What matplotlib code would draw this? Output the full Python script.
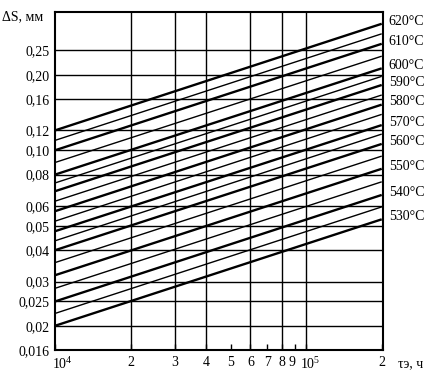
import matplotlib.pyplot as plt
import matplotlib.transforms as mtransforms
from matplotlib.ticker import FixedLocator, NullLocator

plt.rcParams['font.family'] = ['Liberation Serif', 'DejaVu Serif']
plt.rcParams['mathtext.fontset'] = 'custom'
plt.rcParams['mathtext.rm'] = 'Liberation Serif'
plt.rcParams['mathtext.default'] = 'regular'

# temperatures (°C), oxide layer at tau = 1e4 h and at tau = 2e5 h (mm)
temps = [620, 615, 610, 605, 600, 595, 590, 585, 580, 575,
         570, 565, 560, 555, 550, 545, 540, 535, 530]
ds_start = [0.120, 0.1095, 0.100, 0.0894, 0.080, 0.0741, 0.0687, 0.0627, 0.0572, 0.0522,
            0.0476, 0.0436, 0.040, 0.0357, 0.0318, 0.0282, 0.025, 0.0224, 0.020]
ds_end = [0.319, 0.291, 0.2655, 0.237, 0.212, 0.197, 0.182, 0.166, 0.152, 0.139,
          0.126, 0.116, 0.106, 0.0948, 0.0844, 0.0749, 0.0664, 0.0595, 0.0531]
tau = [1e4, 2e5]

y_ticks = [0.016, 0.02, 0.025, 0.03, 0.04, 0.05, 0.06, 0.08, 0.10, 0.12, 0.16, 0.20, 0.25]
y_labels = ['0,016', '0,02', '0,025', '0,03', '0,04', '0,05', '0,06', '0,08',
            '0,10', '0,12', '0,16', '0,20', '0,25']
x_ticks = [1e4, 2e4, 3e4, 4e4, 5e4, 6e4, 7e4, 8e4, 9e4, 1e5, 2e5]
x_labels = ['$10^4$', '2', '3', '4', '5', '6', '7', '8', '9', '$10^5$', '2']
x_grid = [2e4, 3e4, 4e4, 6e4, 8e4, 1e5]

fig = plt.figure(figsize=(4.4, 3.81), dpi=100)
ax = fig.add_axes([0.125, 0.081, 0.745, 0.888])
ax.set_xscale('log')
ax.set_yscale('log')
ax.set_xlim(1e4, 2.02e5)
ax.set_ylim(0.016, 0.356)

# grid
for v in y_ticks[1:]:
    ax.axhline(v, color='black', lw=1.0, zorder=1)
for v in x_grid:
    ax.axvline(v, color='black', lw=1.0, zorder=1)

# lines
for t, a, b in zip(temps, ds_start, ds_end):
    lw = 1.7 if t % 10 == 0 else 1.0
    ax.plot(tau, [a, b], color='black', lw=lw, solid_capstyle='butt', zorder=2)
    if t % 10 == 0:
        ax.annotate(f'{t}°C', xy=(tau[1], b), xytext=(5, 2), textcoords='offset points',
                    ha='left', va='center', fontsize=10, annotation_clip=False)

ax.yaxis.set_major_locator(FixedLocator(y_ticks))
ax.set_yticklabels(y_labels, fontsize=10)
ax.yaxis.set_minor_locator(NullLocator())
ax.xaxis.set_major_locator(FixedLocator(x_ticks))
ax.set_xticklabels(x_labels, fontsize=10)
ax.xaxis.set_minor_locator(NullLocator())
ax.tick_params(axis='both', direction='in', length=4, width=1, pad=4)
ax.tick_params(axis='y', length=0)

# nudge crowded x labels apart
xl = ax.get_xticklabels()
xl[0].set_transform(xl[0].get_transform() + mtransforms.ScaledTranslation(5 / 72, 0, fig.dpi_scale_trans))
xl[8].set_transform(xl[8].get_transform() + mtransforms.ScaledTranslation(-2 / 72, 0, fig.dpi_scale_trans))
xl[9].set_transform(xl[9].get_transform() + mtransforms.ScaledTranslation(3 / 72, 0, fig.dpi_scale_trans))

for s in ax.spines.values():
    s.set_linewidth(1.5)

fig.text(0.005, 0.955, 'ΔS, мм', fontsize=10, ha='left', va='center')
fig.text(0.905, 0.045, 'τэ, ч', fontsize=10, ha='left', va='center')

fig.savefig('out.png', dpi=100)
